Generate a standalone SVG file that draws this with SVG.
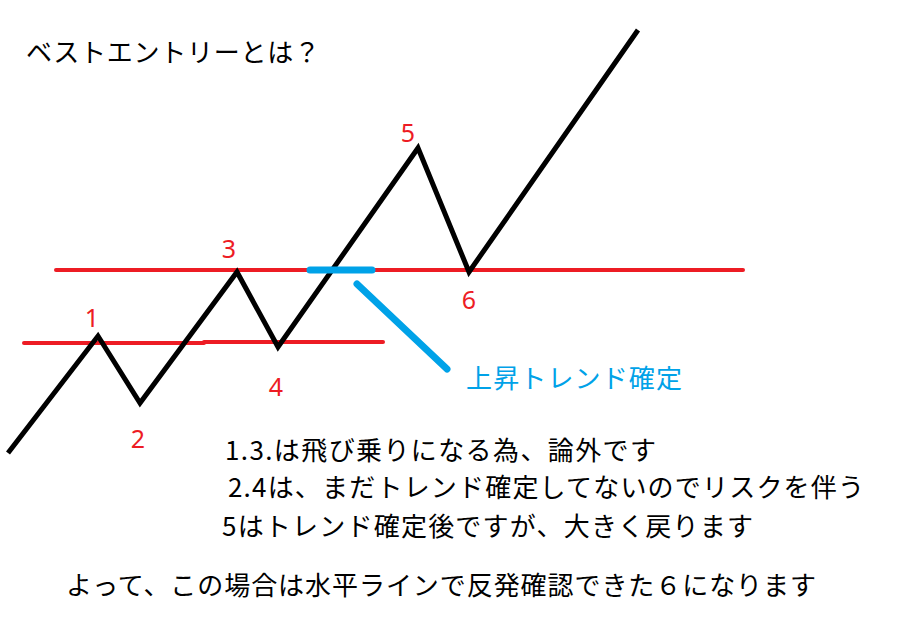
<svg xmlns="http://www.w3.org/2000/svg" width="909" height="638" viewBox="0 0 909 638">
  <style>
    .txt { font-family: "Noto Sans CJK JP", "Noto Sans", sans-serif; font-size: 26px; fill: #000; }
    .num { font-family: "Noto Sans", "Liberation Sans", sans-serif; font-size: 25px; fill: #ED1C24; text-anchor: middle; }
    .blue { font-family: "Noto Sans CJK JP", sans-serif; font-size: 26px; fill: #00A2E8; }
    .red { stroke: #ED1C24; stroke-width: 4; fill: none; stroke-linecap: round; }
    .price { stroke: #000; stroke-width: 5; fill: none; stroke-linejoin: miter; stroke-linecap: butt; }
    .bl { stroke: #00A2E8; stroke-width: 7; fill: none; stroke-linecap: round; }
  </style>
  <rect width="909" height="638" fill="#fff"/>
  <g id="title"><text class="txt" x="26" y="62" textLength="294" lengthAdjust="spacing">ベストエントリーとは？</text></g>
  <g id="levels">
    <line class="red" x1="56" y1="270" x2="743" y2="270"/>
    <line class="red" x1="24" y1="343" x2="204" y2="343"/>
    <line class="red" x1="204" y1="342" x2="383" y2="342"/>
  </g>
  <g id="connectors">
    <polyline class="price" points="8,453 98,336 140,403 237,272 278,347 418,148 469,272 638,30"/>
    <line class="bl" x1="310" y1="270" x2="372" y2="270"/>
    <line class="bl" x1="357" y1="284" x2="447" y2="369"/>
  </g>
  <g id="labels">
    <g id="n1"><text class="num" x="92" y="327">1</text></g>
    <g id="n2"><text class="num" x="138" y="448">2</text></g>
    <g id="n3"><text class="num" x="229" y="258">3</text></g>
    <g id="n4"><text class="num" x="276" y="396">4</text></g>
    <g id="n5"><text class="num" x="408" y="142">5</text></g>
    <g id="n6"><text class="num" x="469" y="309">6</text></g>
  </g>
  <g id="trend-label"><text class="blue" x="466" y="388" textLength="216" lengthAdjust="spacing">上昇トレンド確定</text></g>
  <g id="notes">
    <text class="txt" x="225" y="460" textLength="431" lengthAdjust="spacing">1.3.は飛び乗りになる為、論外です</text>
    <text class="txt" x="228" y="497" textLength="636" lengthAdjust="spacing">2.4は、まだトレンド確定してないのでリスクを伴う</text>
    <text class="txt" x="222" y="536" textLength="531" lengthAdjust="spacing">5はトレンド確定後ですが、大きく戻ります</text>
    <text class="txt" x="66" y="595" textLength="750" lengthAdjust="spacing">よって、この場合は水平ラインで反発確認できた６になります</text>
  </g>
</svg>
